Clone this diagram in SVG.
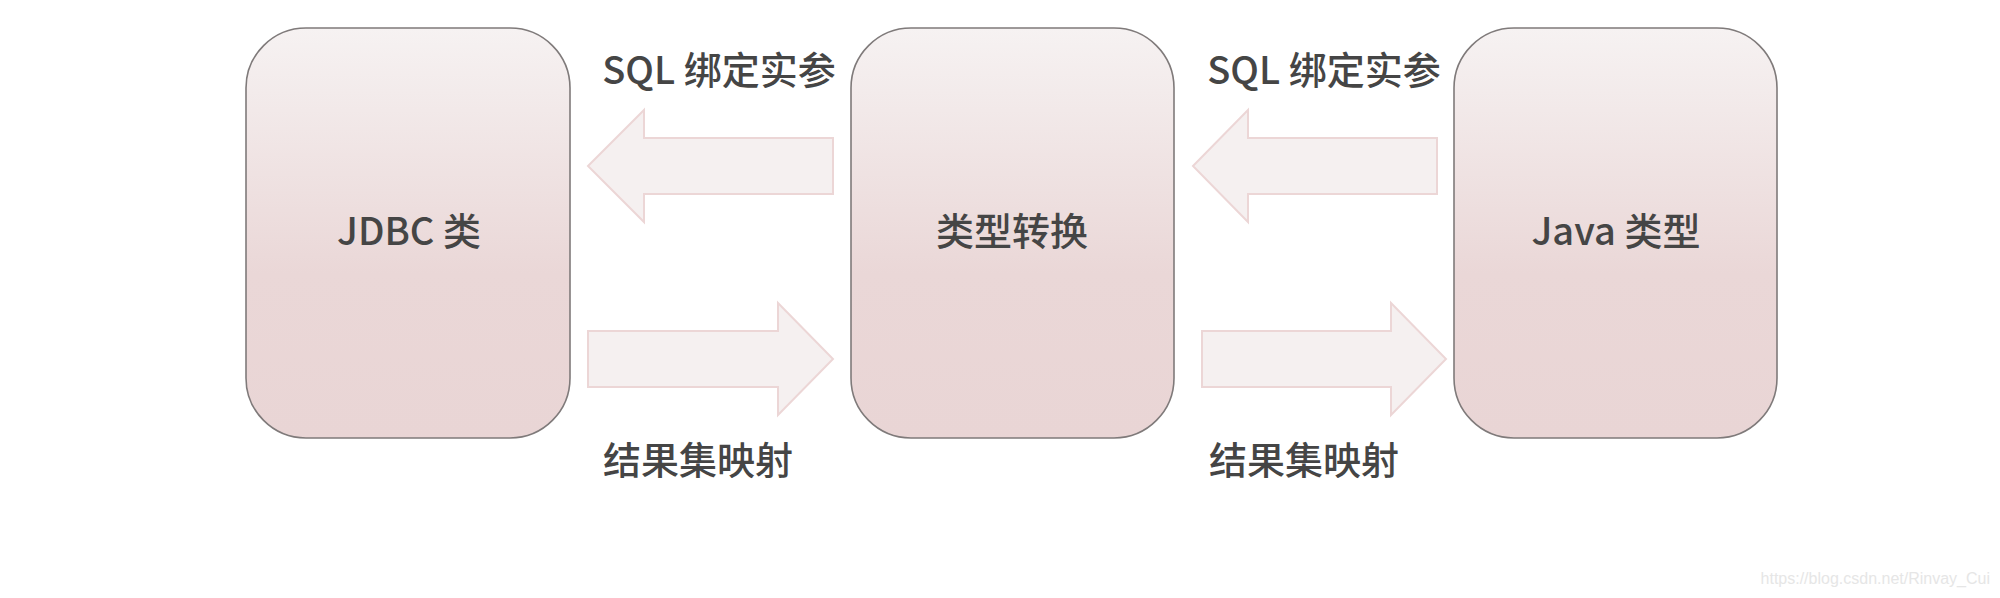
<svg xmlns="http://www.w3.org/2000/svg" width="2000" height="598" viewBox="0 0 2000 598">
<defs>
<linearGradient id="boxg" x1="0" y1="0" x2="0" y2="1">
<stop offset="0" stop-color="#f6f2f2"/>
<stop offset="0.6" stop-color="#ead7d7"/>
<stop offset="1" stop-color="#e9d5d5"/>
</linearGradient>
<style>
.box{fill:url(#boxg);stroke:#7f7a7a;stroke-width:1.6}
.arr{fill:#f5f0f0;stroke:#ecd6d6;stroke-width:2}
.t{font-family:"Noto Sans CJK SC","Noto Sans",sans-serif;font-size:38px;fill:#454545;font-weight:500}
.n{font-family:"Noto Sans CJK SC","Noto Sans",sans-serif;font-size:38px;fill:#454545;font-weight:450}
.wm{font-family:"Liberation Sans",Arial,sans-serif;font-size:16px;fill:#e6e6e6}
</style>
</defs>
<rect width="2000" height="598" fill="#ffffff"/>
<g id="node-jdbc">
<rect class="box" x="246" y="28" width="324" height="410" rx="60" ry="60"/>
<text class="n" x="409" y="245" text-anchor="middle">JDBC 类</text>
</g>
<g id="node-convert">
<rect class="box" x="851" y="28" width="323" height="410" rx="60" ry="60"/>
<text class="n" x="1012" y="245" text-anchor="middle">类型转换</text>
</g>
<g id="node-java">
<rect class="box" x="1454" y="28" width="323" height="410" rx="60" ry="60"/>
<text class="n" x="1616" y="245" text-anchor="middle">Java 类型</text>
</g>
<g id="connectors">
<polygon class="arr" points="588,166 644,110 644,138 833,138 833,194 644,194 644,222"/>
<polygon class="arr" points="588,331 778,331 778,303 833,359 778,415 778,387 588,387"/>
<polygon class="arr" points="1193,166 1248,110 1248,138 1437,138 1437,194 1248,194 1248,222"/>
<polygon class="arr" points="1202,331 1391,331 1391,303 1446,359 1391,415 1391,387 1202,387"/>
<text class="t" x="719" y="84" text-anchor="middle">SQL 绑定实参</text>
<text class="t" x="698" y="474" text-anchor="middle">结果集映射</text>
<text class="t" x="1324" y="84" text-anchor="middle">SQL 绑定实参</text>
<text class="t" x="1304" y="474" text-anchor="middle">结果集映射</text>
</g>
<text class="wm" x="1990" y="584" text-anchor="end">https://blog.csdn.net/Rinvay_Cui</text>
</svg>
